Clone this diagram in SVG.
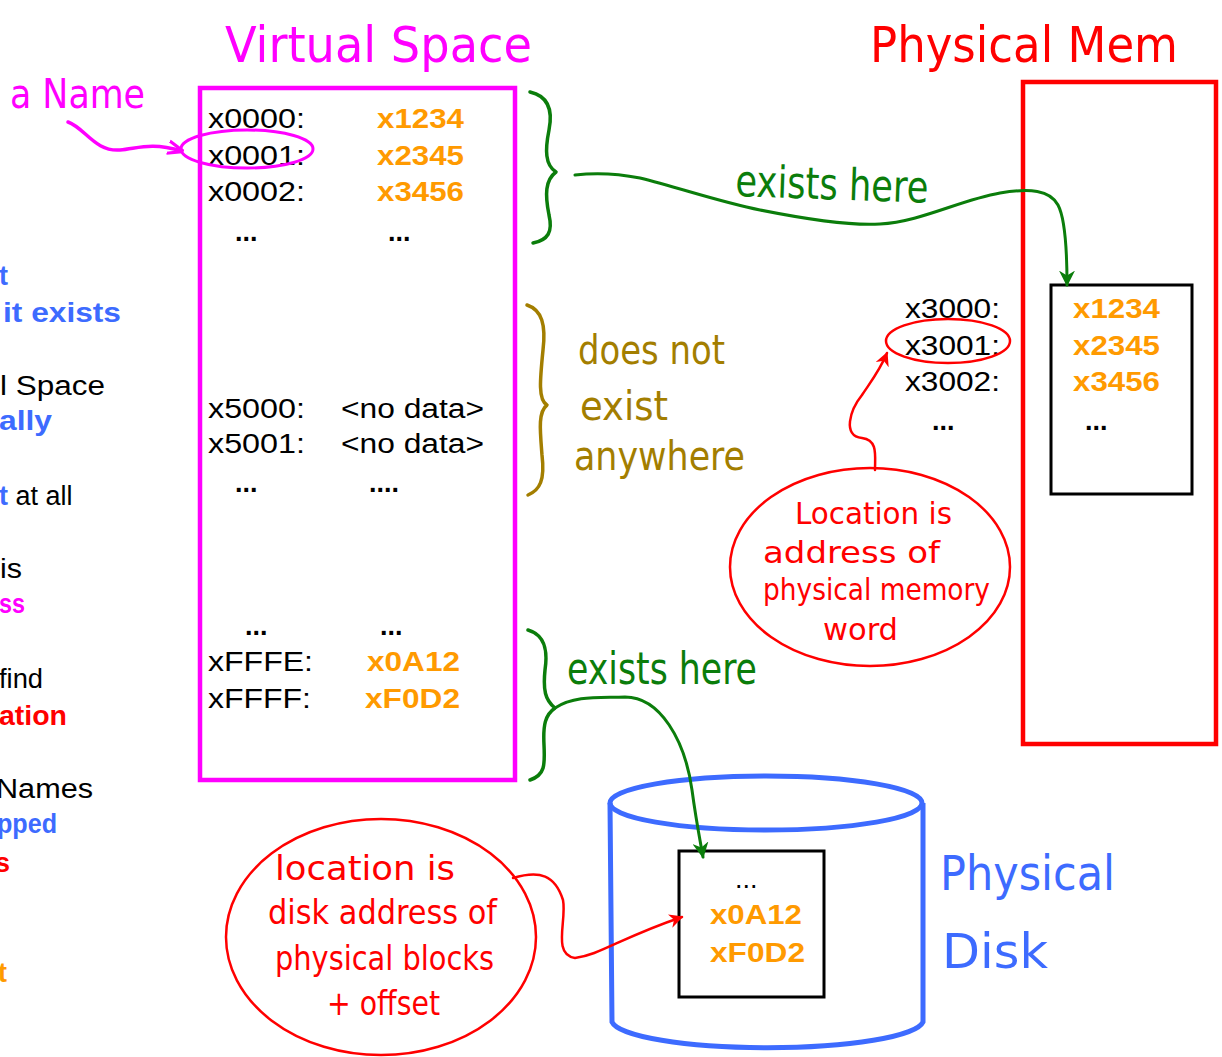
<svg xmlns="http://www.w3.org/2000/svg" width="1222" height="1057" viewBox="0 0 1222 1057">
<defs>
<style>
.t{font-family:"Liberation Sans",Arial,sans-serif;font-size:27px;fill:#000}
.b{font-weight:bold}
.or{fill:#FF9A00}
.bl{fill:#3D6BFF}
.mg{fill:#FF00FF}
.rd{fill:#FF0000}
.h{font-family:"DejaVu Sans Condensed","Liberation Sans Narrow","Noto Sans",sans-serif}
.hand{fill:none;stroke-linecap:round;stroke-linejoin:round}
</style>
<marker id="ag" viewBox="0 0 10 10" refX="9" refY="5" markerWidth="16" markerHeight="16" markerUnits="userSpaceOnUse" orient="auto"><path d="M0,0 L10,5 L0,10 L3,5 Z" fill="#0B7D0B"/></marker>
<marker id="ar" viewBox="0 0 10 10" refX="9" refY="5" markerWidth="14" markerHeight="14" markerUnits="userSpaceOnUse" orient="auto"><path d="M0,0 L10,5 L0,10 L3,5 Z" fill="#FF0000"/></marker>
<marker id="am" viewBox="0 0 10 10" refX="9" refY="5" markerWidth="16" markerHeight="16" markerUnits="userSpaceOnUse" orient="auto"><path d="M0,1 L10,5 L0,9" fill="none" stroke="#FF00FF" stroke-width="2"/></marker>
</defs>
<rect width="1222" height="1057" fill="#fff"/>

<g id="left-text">
<text class="t b bl" x="-1" y="285" textLength="7">t</text>
<text class="t b bl" x="3" y="322" textLength="118" lengthAdjust="spacingAndGlyphs">it exists</text>
<text class="t" x="0" y="395" textLength="105" lengthAdjust="spacingAndGlyphs">l Space</text>
<text class="t b bl" x="-1" y="430" textLength="53" lengthAdjust="spacingAndGlyphs">ally</text>
<text class="t" x="-1" y="505"><tspan class="b bl">t</tspan><tspan> at all</tspan></text>
<text class="t" x="0" y="578" textLength="22" lengthAdjust="spacingAndGlyphs">is</text>
<text class="t b mg" x="-1" y="613" textLength="26" lengthAdjust="spacingAndGlyphs">ss</text>
<text class="t" x="-1" y="688" textLength="44" lengthAdjust="spacingAndGlyphs">find</text>
<text class="t b rd" x="-1" y="725" textLength="68" lengthAdjust="spacingAndGlyphs">ation</text>
<text class="t" x="-4" y="798" textLength="97" lengthAdjust="spacingAndGlyphs">Names</text>
<text class="t b bl" x="-3" y="833" textLength="60" lengthAdjust="spacingAndGlyphs">pped</text>
<text class="t b rd" x="-5" y="872">s</text>
<text class="t b or" x="-2" y="982">t</text>
</g>

<g id="name-label">
<text class="h mg" x="10" y="108" font-size="40" textLength="135" lengthAdjust="spacingAndGlyphs">a Name</text>
</g>

<g id="virtual-space">
<text class="h mg" x="225" y="62" font-size="50" textLength="307" lengthAdjust="spacingAndGlyphs">Virtual Space</text>
<rect x="200" y="88" width="315" height="692" fill="none" stroke="#FF00FF" stroke-width="4.5"/>
<text class="t" x="208" y="128" textLength="97" lengthAdjust="spacingAndGlyphs">x0000:</text>
<text class="t" x="208" y="165" textLength="97" lengthAdjust="spacingAndGlyphs">x0001:</text>
<text class="t" x="208" y="201" textLength="97" lengthAdjust="spacingAndGlyphs">x0002:</text>
<text class="t b" x="235" y="241">...</text>
<text class="t b or" x="377" y="128" textLength="87" lengthAdjust="spacingAndGlyphs">x1234</text>
<text class="t b or" x="377" y="165" textLength="87" lengthAdjust="spacingAndGlyphs">x2345</text>
<text class="t b or" x="377" y="201" textLength="87" lengthAdjust="spacingAndGlyphs">x3456</text>
<text class="t b" x="388" y="241">...</text>
<text class="t" x="208" y="418" textLength="97" lengthAdjust="spacingAndGlyphs">x5000:</text>
<text class="t" x="341" y="418" textLength="143" lengthAdjust="spacingAndGlyphs">&lt;no data&gt;</text>
<text class="t" x="208" y="453" textLength="97" lengthAdjust="spacingAndGlyphs">x5001:</text>
<text class="t" x="341" y="453" textLength="143" lengthAdjust="spacingAndGlyphs">&lt;no data&gt;</text>
<text class="t b" x="235" y="492">...</text>
<text class="t b" x="369" y="492">....</text>
<text class="t b" x="245" y="635">...</text>
<text class="t b" x="380" y="635">...</text>
<text class="t" x="208" y="671" textLength="105" lengthAdjust="spacingAndGlyphs">xFFFE:</text>
<text class="t" x="208" y="708" textLength="103" lengthAdjust="spacingAndGlyphs">xFFFF:</text>
<text class="t b or" x="367" y="671" textLength="93" lengthAdjust="spacingAndGlyphs">x0A12</text>
<text class="t b or" x="365" y="708" textLength="95" lengthAdjust="spacingAndGlyphs">xF0D2</text>
<ellipse cx="247" cy="149" rx="66" ry="19" fill="none" stroke="#FF00FF" stroke-width="3"/>
</g>

<g id="physical-mem">
<text class="h rd" x="870" y="62" font-size="50" textLength="308" lengthAdjust="spacingAndGlyphs">Physical Mem</text>
<rect x="1023" y="82" width="193" height="662" fill="none" stroke="#FF0000" stroke-width="4.5"/>
<rect x="1051" y="285" width="141" height="209" fill="none" stroke="#000" stroke-width="3"/>
<text class="t b or" x="1073" y="318" textLength="87" lengthAdjust="spacingAndGlyphs">x1234</text>
<text class="t b or" x="1073" y="355" textLength="87" lengthAdjust="spacingAndGlyphs">x2345</text>
<text class="t b or" x="1073" y="391" textLength="87" lengthAdjust="spacingAndGlyphs">x3456</text>
<text class="t b" x="1085" y="430">...</text>
<text class="t" x="905" y="318" textLength="95" lengthAdjust="spacingAndGlyphs">x3000:</text>
<text class="t" x="905" y="355" textLength="95" lengthAdjust="spacingAndGlyphs">x3001:</text>
<text class="t" x="905" y="391" textLength="95" lengthAdjust="spacingAndGlyphs">x3002:</text>
<text class="t b" x="932" y="430">...</text>
<ellipse cx="948" cy="341" rx="62" ry="22" fill="none" stroke="#FF0000" stroke-width="2.5"/>
</g>

<g id="mem-note">
<ellipse cx="870" cy="567" rx="140" ry="99" fill="none" stroke="#FF0000" stroke-width="2.5"/>
<text class="h rd" x="795" y="524" font-size="31" textLength="157" lengthAdjust="spacingAndGlyphs">Location is</text>
<text class="h rd" x="763" y="563" font-size="31" textLength="177" lengthAdjust="spacingAndGlyphs">address of</text>
<text class="h rd" x="763" y="600" font-size="31" textLength="227" lengthAdjust="spacingAndGlyphs">physical memory</text>
<text class="h rd" x="823" y="640" font-size="31" textLength="75" lengthAdjust="spacingAndGlyphs">word</text>
</g>

<g id="physical-disk">
<path d="M610,803 L612,1022 A156,28 0 0 0 923,1022 L923,803" fill="none" stroke="#3D6BFF" stroke-width="5"/>
<ellipse cx="766" cy="803" rx="156" ry="27" fill="none" stroke="#3D6BFF" stroke-width="5"/>
<rect x="679" y="851" width="145" height="146" fill="none" stroke="#000" stroke-width="3"/>
<text class="t" x="735" y="888" font-size="22">...</text>
<text class="t b or" x="710" y="924" textLength="92" lengthAdjust="spacingAndGlyphs">x0A12</text>
<text class="t b or" x="710" y="962" textLength="95" lengthAdjust="spacingAndGlyphs">xF0D2</text>
<text class="h bl" x="940" y="890" font-size="48" textLength="175" lengthAdjust="spacingAndGlyphs">Physical</text>
<text class="h bl" x="942" y="968" font-size="48" textLength="106" lengthAdjust="spacingAndGlyphs">Disk</text>
</g>

<g id="disk-note">
<ellipse cx="381" cy="937" rx="155" ry="118" fill="none" stroke="#FF0000" stroke-width="2.5"/>
<text class="h rd" x="275" y="880" font-size="33" textLength="180" lengthAdjust="spacingAndGlyphs">location is</text>
<text class="h rd" x="268" y="924" font-size="33" textLength="229" lengthAdjust="spacingAndGlyphs">disk address of</text>
<text class="h rd" x="275" y="970" font-size="33" textLength="219" lengthAdjust="spacingAndGlyphs">physical blocks</text>
<text class="h rd" x="327" y="1015" font-size="33" textLength="113" lengthAdjust="spacingAndGlyphs">+ offset</text>
</g>

<g id="annotations">
<path class="hand" d="M530,92 C548,96 553,110 549,130 C545,150 545,165 556,172 C545,180 545,195 549,215 C553,232 548,240 533,243" stroke="#0B7D0B" stroke-width="3.5"/>
<text class="h" x="735" y="196" font-size="44" fill="#0B7D0B" textLength="193" lengthAdjust="spacingAndGlyphs" transform="rotate(2 735 196)">exists here</text>
<path class="hand" d="M527,305 C542,310 546,325 543,350 C540,380 538,400 547,405 C538,412 540,430 542,455 C545,480 540,490 528,495" stroke="#A37E00" stroke-width="3.5"/>
<text class="h" x="578" y="364" font-size="40" fill="#A37E00" textLength="147" lengthAdjust="spacingAndGlyphs">does not</text>
<text class="h" x="580" y="420" font-size="40" fill="#A37E00" textLength="88" lengthAdjust="spacingAndGlyphs">exist</text>
<text class="h" x="574" y="470" font-size="40" fill="#A37E00" textLength="171" lengthAdjust="spacingAndGlyphs">anywhere</text>
<path class="hand" d="M528,630 C545,635 548,650 545,670 C543,690 545,700 555,708 C545,715 543,725 544,745 C545,765 545,775 530,780" stroke="#0B7D0B" stroke-width="3.5"/>
<text class="h" x="567" y="684" font-size="44" fill="#0B7D0B" textLength="190" lengthAdjust="spacingAndGlyphs">exists here</text>
</g>

<g id="connectors">
<path class="hand" d="M68,122 C85,128 95,152 120,150 C140,148 150,142 182,151" stroke="#FF00FF" stroke-width="3.5" marker-end="url(#am)"/>
<path class="hand" d="M575,175 C600,172 620,174 640,178 C680,188 720,202 760,210 C800,218 850,226 880,224 C920,222 960,200 1000,193 C1030,188 1050,190 1058,205 C1066,220 1067,255 1067,285" stroke="#0B7D0B" stroke-width="3" marker-end="url(#ag)"/>
<path class="hand" d="M555,708 C575,695 600,698 625,697 C660,697 685,740 692,790 C696,820 700,840 703,857" stroke="#0B7D0B" stroke-width="3" marker-end="url(#ag)"/>
<path class="hand" d="M875,470 C875,455 878,440 862,438 C842,436 850,410 862,395 C872,380 880,370 887,353" stroke="#FF0000" stroke-width="2.5" marker-end="url(#ar)"/>
<path class="hand" d="M513,878 C540,870 555,875 563,900 C567,920 552,955 575,958 C600,955 620,938 682,917" stroke="#FF0000" stroke-width="2.5" marker-end="url(#ar)"/>
</g>
</svg>
